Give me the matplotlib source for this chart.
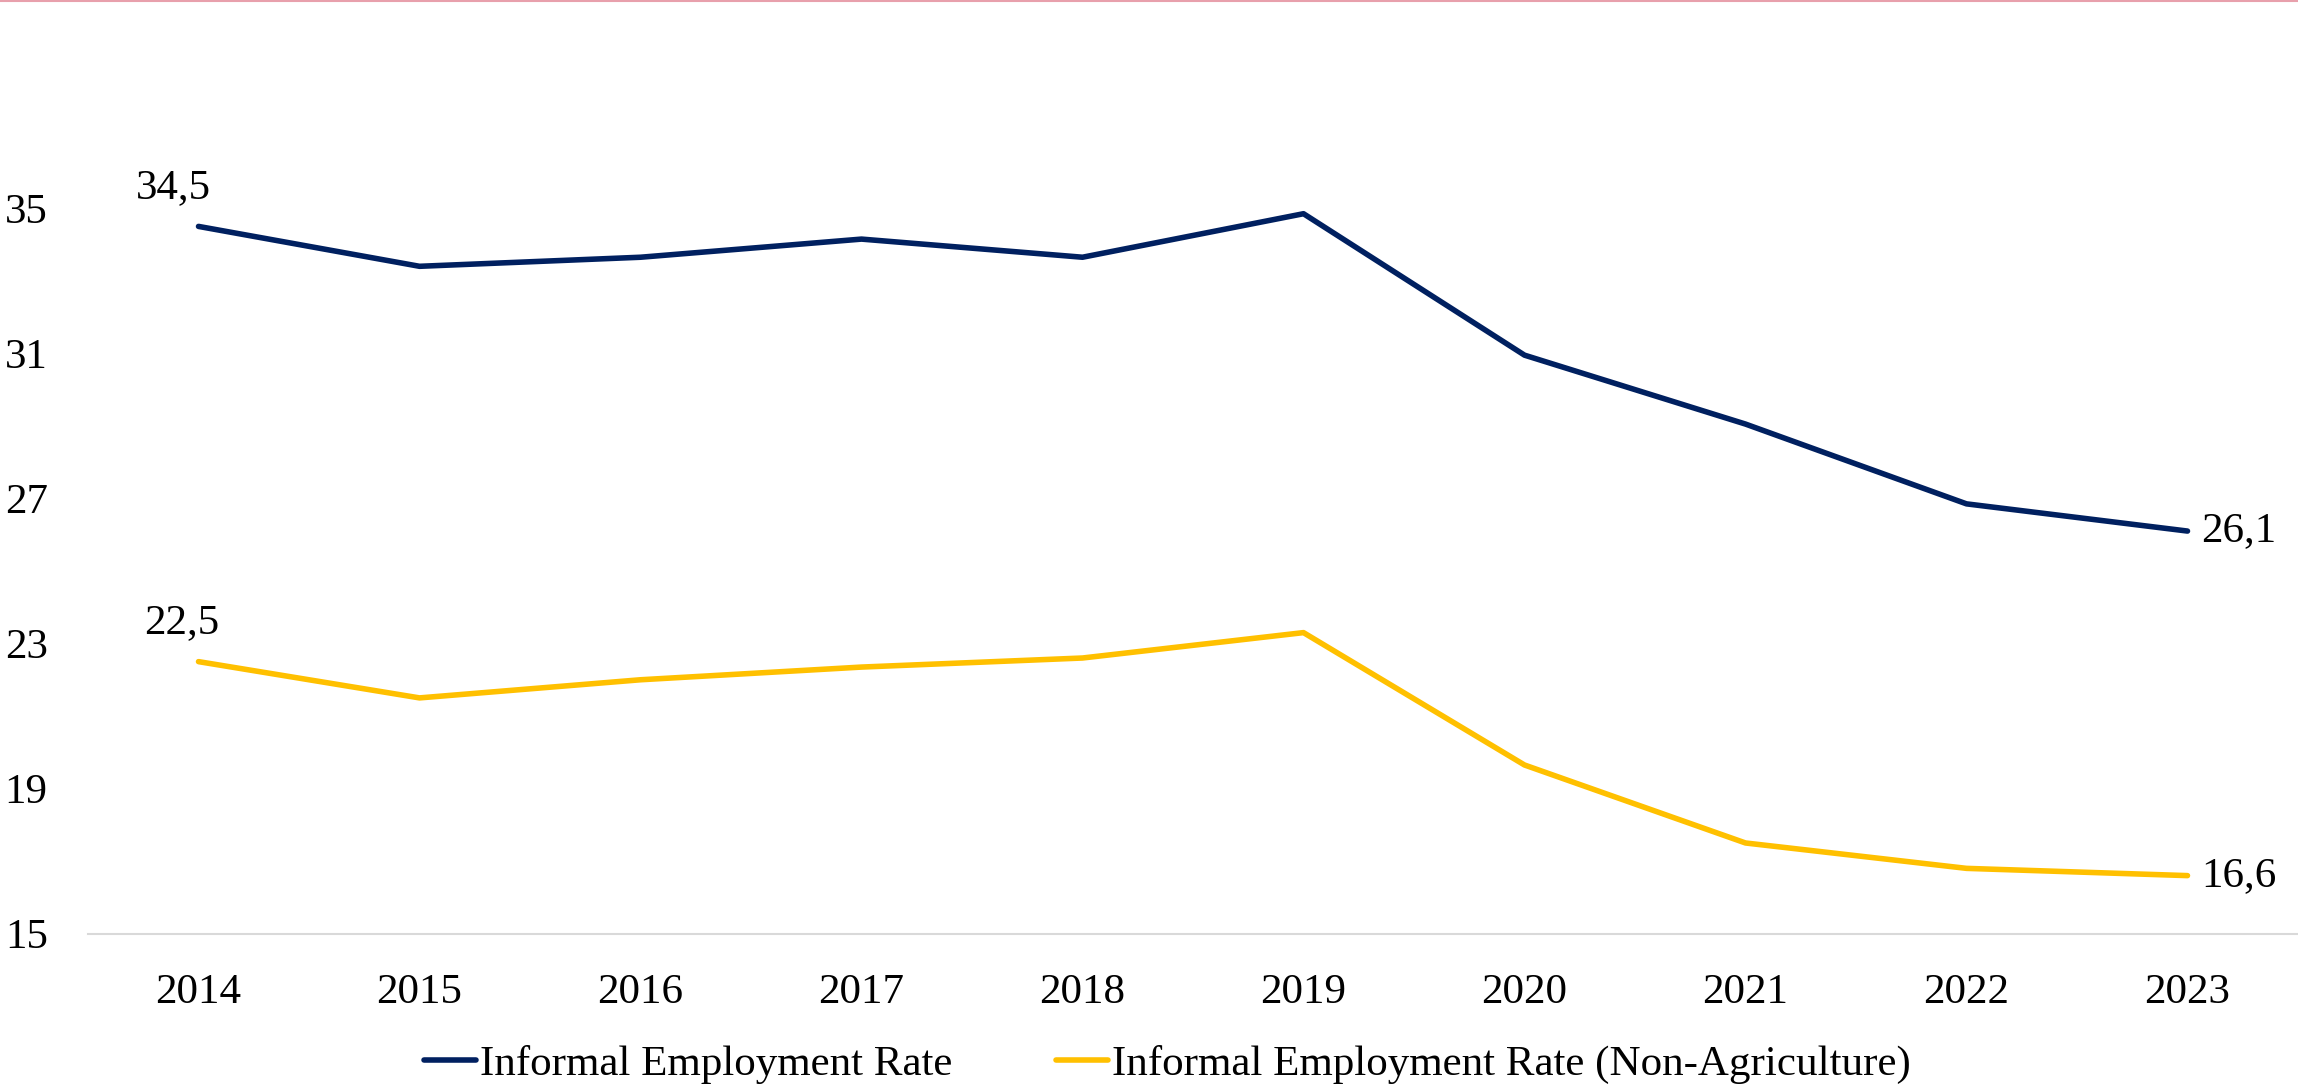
import matplotlib
matplotlib.use('Agg')
import matplotlib.pyplot as plt
from matplotlib.lines import Line2D

years = ['2014', '2015', '2016', '2017', '2018', '2019', '2020', '2021', '2022', '2023']
informal_rate = [34.5, 33.4, 33.65, 34.15, 33.65, 34.85, 30.95, 29.05, 26.85, 26.1]
informal_non_agri = [22.5, 21.5, 22.0, 22.35, 22.6, 23.3, 19.65, 17.5, 16.8, 16.6]
yticks = [15, 19, 23, 27, 31, 35]

NAVY = '#002060'
GOLD = '#FFC000'

plt.rcParams['font.family'] = ['Liberation Serif', 'DejaVu Serif']

fig = plt.figure(figsize=(22.98, 10.84), dpi=100)
ax = fig.add_axes([0.0383, 0.1387, 0.9617, 0.803])

x = list(range(len(years)))
ax.plot(x, informal_rate, color=NAVY, lw=4, solid_capstyle='round',
        label='Informal Employment Rate')
ax.plot(x, informal_non_agri, color=GOLD, lw=4, solid_capstyle='round',
        label='Informal Employment Rate (Non-Agriculture)')

fs = 31
# data labels at first and last points
ax.annotate('34,5', (x[0], informal_rate[0]), xytext=(-18, 14),
            textcoords='offset points', ha='center', va='bottom', fontsize=fs)
ax.annotate('22,5', (x[0], informal_non_agri[0]), xytext=(-12, 14),
            textcoords='offset points', ha='center', va='bottom', fontsize=fs)
ax.annotate('26,1', (x[-1], informal_rate[-1]), xytext=(10, 0),
            textcoords='offset points', ha='left', va='center', fontsize=fs)
ax.annotate('16,6', (x[-1], informal_non_agri[-1]), xytext=(10, 0),
            textcoords='offset points', ha='left', va='center', fontsize=fs)

ax.set_xlim(-0.5, len(years) - 0.5)
ax.set_ylim(15, 39)
ax.set_xticks(x)
ax.set_xticklabels(years, fontsize=fs)
ax.set_yticks(yticks)
ax.set_yticklabels([str(t) for t in yticks], fontsize=fs)
ax.tick_params(axis='both', length=0)
ax.tick_params(axis='y', pad=29)
ax.tick_params(axis='x', pad=29)

for s in ['top', 'right', 'left']:
    ax.spines[s].set_visible(False)
ax.spines['bottom'].set_color('#d9d9d9')
ax.spines['bottom'].set_linewidth(1.5)

fig.legend(loc='lower center', bbox_to_anchor=(0.508, -0.036), ncol=2, frameon=False,
           fontsize=fs, handlelength=1.2, handletextpad=0.1, columnspacing=2.4)

# thin pink border line at the very top
fig.add_artist(Line2D([0, 1], [0.999, 0.999], transform=fig.transFigure,
                      color='#e8a0ac', lw=1.5))

fig.savefig('out.png', dpi=100)
